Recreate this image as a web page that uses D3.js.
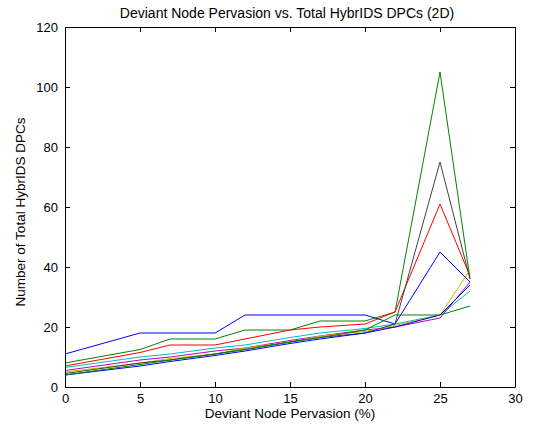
<!DOCTYPE html>
<html>
<head>
<meta charset="utf-8">
<script src="https://cdn.jsdelivr.net/npm/d3@7.9.0/dist/d3.min.js"></script>
<style>
  body { margin: 0; background: #fff; }
  svg { font-family: "Liberation Sans", Arial, sans-serif; }
</style>
</head>
<body>
<svg id="chart" width="535" height="432"></svg>
<script>
// x positions (deviant node pervasion, %)
const pervasion = [0, 5, 7, 10, 12, 15, 17, 20, 22, 25, 27];

// one array per run
const run1 = [11, 18, 18, 18, 24, 24, 24, 24, 21, 45, 35];
const run2 = [8, 12.5, 16, 16, 19, 19, 22, 22, 25, 105, 36];
const run3 = [7, 11.5, 14, 14, 16, 19, 20, 21, 25, 61, 37];
const run4 = [6.5, 10, 11, 13, 14, 16.5, 18, 19.5, 21, 24, 32];
const run5 = [5.5, 9, 10, 12, 13, 15.5, 17, 19, 20, 23, 35];
const run6 = [5, 8, 9.5, 11, 13, 15, 17, 18.5, 20.5, 24, 39];
const run7 = [4.5, 8, 9, 11, 12.5, 15, 16.5, 18, 21, 75, 36];
const run8 = [4, 7, 8.5, 10.5, 12, 14.5, 16, 18, 20, 24, 34];
const run9 = [4, 7.5, 9, 11, 12.5, 15, 16.5, 19, 24, 24, 27];

const runs = [run1, run2, run3, run4, run5, run6, run7, run8, run9];
const colors = ['#0000ff', '#008000', '#ff0000', '#00bfbf', '#bf00bf', '#bfbf00', '#404040', '#0000ff', '#008000'];

const xTicks = [0, 5, 10, 15, 20, 25, 30];
const yTicks = [0, 20, 40, 60, 80, 100, 120];

const margin = { top: 27, right: 20, bottom: 45, left: 65 };
const width = 535 - margin.left - margin.right;
const height = 432 - margin.top - margin.bottom;

const svg = d3.select('#chart');
const g = svg.append('g').attr('transform', `translate(${margin.left},${margin.top})`);

const x = d3.scaleLinear().domain([0, 30]).range([0, width]);
const y = d3.scaleLinear().domain([0, 120]).range([height, 0]);

// lines
const line = d3.line()
  .x((d, i) => x(pervasion[i]))
  .y(d => y(d));

runs.forEach((run, idx) => {
  g.append('path')
    .datum(run)
    .attr('d', line)
    .attr('fill', 'none')
    .attr('stroke', colors[idx])
    .attr('stroke-width', 1);
});

// axes, MATLAB style: ticks inside on all four sides
const styleAxis = (sel) => {
  sel.selectAll('path').attr('stroke', '#000');
  sel.selectAll('line').attr('stroke', '#000');
  sel.selectAll('text').attr('fill', '#000').attr('font-size', 13);
};

g.append('g')
  .attr('transform', `translate(0,${height})`)
  .call(d3.axisBottom(x).tickValues(xTicks).tickSize(-5).tickSizeOuter(0).tickPadding(7))
  .call(styleAxis);

g.append('g')
  .call(d3.axisLeft(y).tickValues(yTicks).tickSize(-5).tickSizeOuter(0).tickPadding(7))
  .call(styleAxis);

g.append('g')
  .call(d3.axisTop(x).tickValues(xTicks).tickSize(-5).tickSizeOuter(0).tickFormat(''))
  .call(styleAxis);

g.append('g')
  .attr('transform', `translate(${width},0)`)
  .call(d3.axisRight(y).tickValues(yTicks).tickSize(-5).tickSizeOuter(0).tickFormat(''))
  .call(styleAxis);

// title and labels
svg.append('text')
  .attr('x', 287)
  .attr('y', 18)
  .attr('text-anchor', 'middle')
  .attr('font-size', 14)
  .text('Deviant Node Pervasion vs. Total HybrIDS DPCs (2D)');

svg.append('text')
  .attr('x', 290)
  .attr('y', 418)
  .attr('text-anchor', 'middle')
  .attr('font-size', 13.5)
  .text('Deviant Node Pervasion (%)');

svg.append('text')
  .attr('transform', `translate(25,212) rotate(-90)`)
  .attr('text-anchor', 'middle')
  .attr('font-size', 13.5)
  .text('Number of Total HybrIDS DPCs');
</script>
</body>
</html>
